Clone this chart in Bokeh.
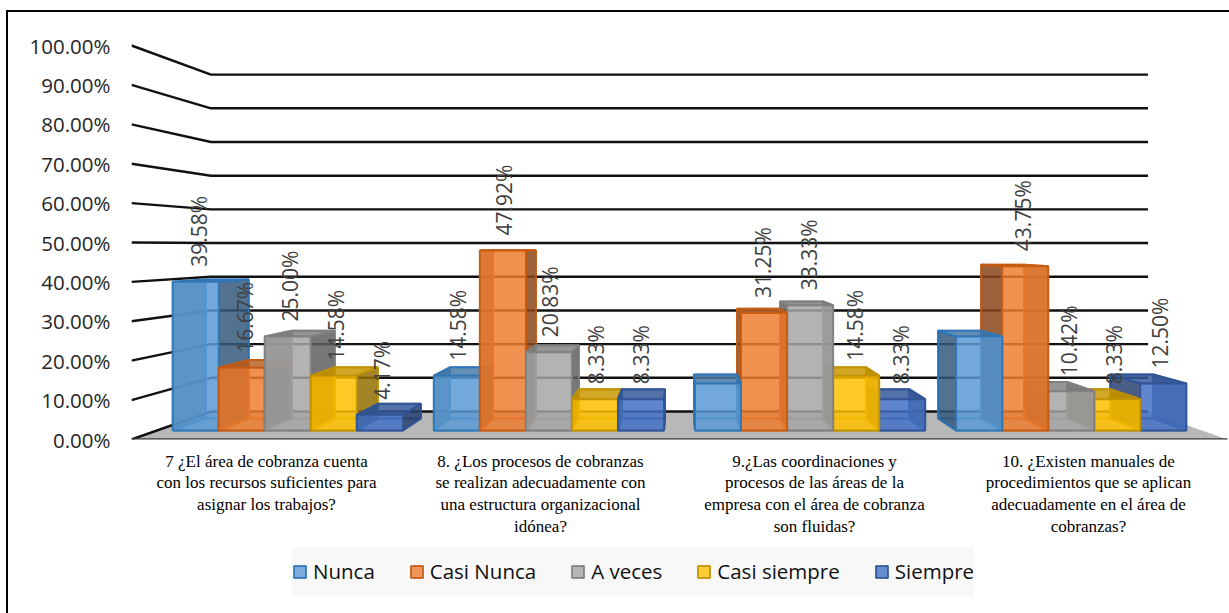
import math
from bokeh.plotting import figure
from bokeh.embed import file_html
from bokeh.resources import INLINE
from bokeh.models import ColumnDataSource, FixedTicker, Legend, LegendItem
from bokeh.core.properties import value

categories = [
    "7 ¿El área de cobranza cuenta\ncon los recursos suficientes para\nasignar los trabajos?",
    "8. ¿Los procesos de cobranzas\nse realizan adecuadamente con\nuna estructura organizacional\nidónea?",
    "9.¿Las coordinaciones y\nprocesos de las áreas de la\nempresa con el área de cobranza\nson fluidas?",
    "10. ¿Existen manuales de\nprocedimientos que se aplican\nadecuadamente en el área de\ncobranzas?",
]
series = ["Nunca", "Casi Nunca", "A veces", "Casi siempre", "Siempre"]
nunca = [39.58, 14.58, 12.50, 25.00]
casi_nunca = [16.67, 47.92, 31.25, 43.75]
a_veces = [25.00, 20.83, 33.33, 10.42]
casi_siempre = [14.58, 8.33, 14.58, 8.33]
siempre = [4.17, 8.33, 8.33, 12.50]
labelled = [
    [True, True, True, True, True],
    [True, True, True, True, True],
    [False, True, True, True, True],
    [False, True, True, True, True],
]
ticks = [0, 10, 20, 30, 40, 50, 60, 70, 80, 90, 100]
values = [nunca, casi_nunca, a_veces, casi_siempre, siempre]
fills = ["#5B9BD5", "#ED7D31", "#A5A5A5", "#FFC000", "#4472C4"]
edges = ["#2E75B6", "#C55A11", "#7F7F7F", "#BF9000", "#2F5597"]


def darken(c, f):
    r, g, b = int(c[1:3], 16), int(c[3:5], 16), int(c[5:7], 16)
    return "#%02x%02x%02x" % (int(r * f), int(g * f), int(b * f))


# perspective: depth scale s, vanishing height H in value units
H = 49.0
S_FRONT, S_BACK = 1.0, 0.855
S_BAR_F, S_BAR_B = 0.953, 0.891
HALF = 548.0
GROUP = HALF / 2
BAR = 48.3
PX_PER_VAL = 3.94


def proj(X, v, s):
    return X * s, H * (1 - s) + v * s


def face(pts):
    xs, ys = zip(*[proj(*q) for q in pts])
    return list(xs), list(ys)


p = figure(width=1221, height=601, frame_width=1098, frame_height=427,
           x_range=(-548, 550), y_range=(0, 427 / PX_PER_VAL),
           output_backend="svg", toolbar_location=None,
           min_border_left=123, min_border_right=0, min_border_top=0, min_border_bottom=0,
           outline_line_color=None, background_fill_color=None, border_fill_color="white",
           styles={"margin-left": "6px", "margin-top": "10px",
                   "border-left": "2px solid #000", "border-top": "2px solid #000"})
p.grid.visible = False

# y axis
p.yaxis.ticker = FixedTicker(ticks=ticks)
p.yaxis.major_label_overrides = {t: f"{t:.2f}%" for t in ticks}
p.yaxis.axis_line_color = None
p.yaxis.major_tick_line_color = None
p.yaxis.minor_tick_line_color = None
p.yaxis.major_label_standoff = 15
p.yaxis.major_label_text_font = "Open Sans"
p.yaxis.major_label_text_font_size = "20.5px"
p.yaxis.major_label_text_color = "#262626"

# x axis
centers = [(-HALF + GROUP * (i + 0.5)) - 2 for i in range(len(categories))]
p.xaxis.ticker = FixedTicker(ticks=centers)
p.xaxis.major_label_overrides = {c: t for c, t in zip(centers, categories)}
p.xaxis.axis_line_color = None
p.xaxis.major_tick_line_color = None
p.xaxis.minor_tick_line_color = None
p.xaxis.major_label_standoff = 6
p.xaxis.major_label_text_font = "Liberation Serif"
p.xaxis.major_label_text_font_size = "17px"
p.xaxis.major_label_text_color = "#000000"
p.xaxis.major_label_text_line_height = 1.15

# floor
fx, fy = face([(-HALF, 0, S_FRONT), (-HALF, 0, S_BACK), (HALF, 0, S_BACK), (HALF, 0, S_FRONT)])
p.patch(fx, fy, fill_color="#b8b8b8", line_color=None)

# gridlines
for t in ticks:
    xs, ys = zip(*[proj(-HALF, t, S_FRONT), proj(-HALF, t, S_BACK), proj(HALF, t, S_BACK)])
    p.line(list(xs), list(ys), line_color="#111111", line_width=2.4)
lx, ly = zip(*[proj(-HALF, 0, S_FRONT), proj(HALF, 0, S_FRONT)])
p.line(list(lx), list(ly), line_color="#404040", line_width=2.5)

legend_rs = [None] * len(series)
lab_x, lab_y, lab_t = [], [], []
ALPHA = 0.8
LINE_A = 0.85

for g in range(len(categories)):
    left = -HALF + GROUP * g + (GROUP - BAR * len(series)) / 2
    order = range(len(series)) if g < 2 else range(len(series) - 1, -1, -1)
    for b in order:
        v = values[b][g]
        x0, x1 = left + BAR * b, left + BAR * (b + 1)
        c, e = fills[b], edges[b]
        f, r = S_BAR_F, S_BAR_B
        faces = [
            ([(x0, 0, r), (x1, 0, r), (x1, v, r), (x0, v, r)], c, 0.25),       # back
            ([(x0, 0, f), (x1, 0, f), (x1, 0, r), (x0, 0, r)], c, 0.25),       # bottom
            ([(x0, 0, f), (x0, v, f), (x0, v, r), (x0, 0, r)], darken(c, .55), ALPHA),
            ([(x1, 0, f), (x1, v, f), (x1, v, r), (x1, 0, r)], darken(c, .55), ALPHA),
            ([(x0, v, f), (x1, v, f), (x1, v, r), (x0, v, r)], darken(c, .78), ALPHA),
            ([(x0, 0, f), (x1, 0, f), (x1, v, f), (x0, v, f)], c, ALPHA),      # front
        ]
        for pts, col, al in faces:
            xs, ys = face(pts)
            rr = p.patch(xs, ys, fill_color=col, fill_alpha=al, line_color=e,
                         line_width=2, line_alpha=LINE_A)
        if g == 0:
            legend_rs[b] = rr
        if labelled[g][b]:
            cx = (x0 + x1) / 2 * 0.947
            lab_x.append(cx)
            lab_y.append(H * (1 - f) + v * f + 15 / PX_PER_VAL)
            lab_t.append(f"{v:.2f}%")

p.text(x="x", y="y", text="t", source=ColumnDataSource(dict(x=lab_x, y=lab_y, t=lab_t)),
       angle=math.pi / 2, text_align="left", text_baseline="middle",
       text_font=value("Open Sans"), text_font_size="21px", text_color="#404040")

legend = Legend(items=[LegendItem(label=value(s), renderers=[legend_rs[i]]) for i, s in enumerate(series)],
                orientation="horizontal", location=(161, 670),
                background_fill_color="#f8f8f8", background_fill_alpha=1, border_line_color=None,
                label_text_font="Open Sans", label_text_font_size="20.5px", label_text_color="#111111",
                glyph_width=15, glyph_height=15, label_standoff=6, label_height=49, spacing=34, padding=14,
                margin=0)
p.add_layout(legend, "below")

open("out.html", "w").write(file_html(p, INLINE))
